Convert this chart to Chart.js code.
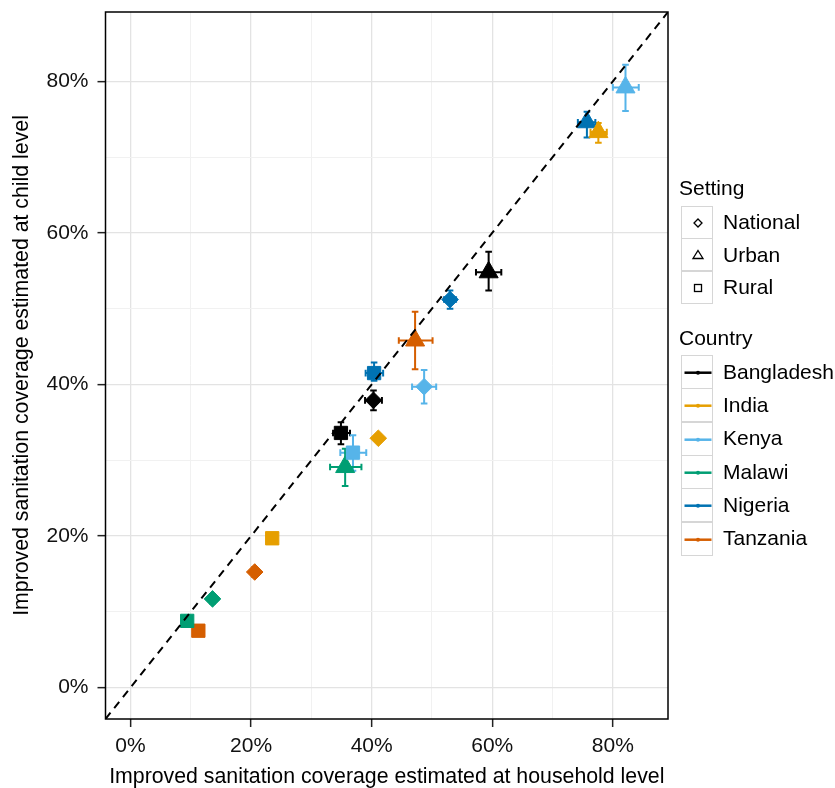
<!DOCTYPE html>
<html><head><meta charset="utf-8">
<script src="https://cdn.jsdelivr.net/npm/chart.js@4/dist/chart.umd.min.js"></script>
<style>
html,body{margin:0;padding:0;background:#fff;}
#wrap{position:relative;width:835px;height:788px;font-family:"Liberation Sans",Arial,sans-serif;}
canvas{position:absolute;left:0;top:0;}
.lg{position:absolute;font-size:21px;color:#000;line-height:24px;white-space:nowrap;}
.key{position:absolute;box-sizing:border-box;border:1px solid #d6d6d6;background:#fff;}
.key svg{position:absolute;left:0;top:0;}
</style></head>
<body><div id="wrap"><canvas id="c" width="835" height="788"></canvas><div id="legend"></div></div>
<script>
// ---- data ----
const countries = ['Bangladesh','India','Kenya','Malawi','Nigeria','Tanzania'];
const countryColors = ['#000000','#E69F00','#56B4E9','#009E73','#0072B2','#D55E00'];
const settings = ['National','Urban','Rural'];
const settingShapes = ['rectRot','triangle','rect'];
const axisTicks = [0,10,20,30,40,50,60,70,80];

// household-level coverage (x), per country
const hhNational = [40.3, 41.1, 48.7, 13.6, 53.0, 20.6];
const hhUrban    = [59.4, 77.6, 82.1, 35.6, 75.7, 47.2];
const hhRural    = [34.9, 23.5, 36.9,  9.4, 40.4, 11.25];
// child-level coverage (y), per country
const chNational = [37.9, 32.9, 39.7, 11.7, 51.2, 15.25];
const chUrban    = [54.8, 73.3, 79.2, 29.1, 74.6, 45.8];
const chRural    = [33.6, 19.7, 31.0,  8.8, 41.5,  7.5];
// confidence intervals
const hhLoNational = [38.9, 40.6, 46.7, 13.0, 52.0, 20.0];
const hhHiNational = [41.7, 41.6, 50.7, 14.2, 54.0, 21.2];
const chLoNational = [36.6, 32.4, 37.5, 11.1, 50.0, 14.6];
const chHiNational = [39.2, 33.4, 41.9, 12.3, 52.4, 15.9];
const hhLoUrban = [57.3, 76.3, 80.0, 33.1, 74.2, 44.5];
const hhHiUrban = [61.5, 79.0, 84.3, 38.3, 77.1, 50.1];
const chLoUrban = [52.4, 71.9, 76.1, 26.6, 72.6, 42.0];
const chHiUrban = [57.5, 74.5, 82.2, 31.5, 76.0, 49.6];
const hhLoRural = [33.6, 23.0, 34.8,  8.9, 39.0, 10.7];
const hhHiRural = [36.4, 24.0, 39.1,  9.9, 41.9, 11.8];
const chLoRural = [32.1, 19.2, 28.6,  8.3, 40.5,  7.0];
const chHiRural = [35.0, 20.2, 33.3,  9.5, 42.9,  8.0];

const axisMin = -4.15, axisMax = 89.15;

const HH = [hhNational, hhUrban, hhRural];
const CH = [chNational, chUrban, chRural];
const HHLO = [hhLoNational, hhLoUrban, hhLoRural];
const HHHI = [hhHiNational, hhHiUrban, hhHiRural];
const CHLO = [chLoNational, chLoUrban, chLoRural];
const CHHI = [chHiNational, chHiUrban, chHiRural];

const pointSizes = [8.3, 11, 9.4];

const datasets = [{
  data: [{x: axisMin, y: axisMin}, {x: axisMax, y: axisMax}],
  showLine: true, borderColor: '#000', borderWidth: 2, borderDash: [8, 6],
  pointRadius: 0, order: 0
}];
countries.forEach((c, ci) => {
  datasets.push({
    label: c,
    data: settings.map((s, si) => ({x: HH[si][ci], y: CH[si][ci]})),
    pointStyle: settingShapes,
    pointRadius: pointSizes,
    backgroundColor: countryColors[ci],
    borderColor: countryColors[ci],
    pointBorderWidth: 1,
    showLine: false,
    order: 1
  });
});

const errorBars = {
  id: 'errorBars',
  beforeDatasetsDraw(chart) {
    const {ctx, scales: {x, y}} = chart;
    ctx.save();
    ctx.lineWidth = 2;
    const cap = 3.3;
    countries.forEach((c, ci) => {
      ctx.strokeStyle = countryColors[ci];
      settings.forEach((s, si) => {
        const px = x.getPixelForValue(HH[si][ci]);
        const py = y.getPixelForValue(CH[si][ci]);
        const x0 = x.getPixelForValue(HHLO[si][ci]), x1 = x.getPixelForValue(HHHI[si][ci]);
        const y0 = y.getPixelForValue(CHLO[si][ci]), y1 = y.getPixelForValue(CHHI[si][ci]);
        ctx.beginPath();
        ctx.moveTo(x0, py); ctx.lineTo(x1, py);
        ctx.moveTo(x0, py - cap); ctx.lineTo(x0, py + cap);
        ctx.moveTo(x1, py - cap); ctx.lineTo(x1, py + cap);
        ctx.moveTo(px, y0); ctx.lineTo(px, y1);
        ctx.moveTo(px - cap, y0); ctx.lineTo(px + cap, y0);
        ctx.moveTo(px - cap, y1); ctx.lineTo(px + cap, y1);
        ctx.stroke();
      });
    });
    ctx.restore();
  }
};
const frame = {
  id: 'frame',
  afterDraw(chart) {
    const {ctx, chartArea: a} = chart;
    ctx.save();
    ctx.strokeStyle = '#000';
    ctx.lineWidth = 1.5;
    ctx.strokeRect(a.left, a.top, a.right - a.left, a.bottom - a.top);
    ctx.restore();
  }
};

const font = {family: '"Liberation Sans", Arial, sans-serif', size: 21};
const titleFont = {family: '"Liberation Sans", Arial, sans-serif', size: 21.3};
function axisOpts(title, isX) {
  return {
    type: 'linear', min: axisMin, max: axisMax,
    afterBuildTicks: sc => { sc.ticks = axisTicks.map(v => ({value: v})); },
    afterFit: sc => {
      if (isX) sc.height = 69; else sc.width = 105.5;
      sc.paddingTop = 0; sc.paddingBottom = 0; sc.paddingLeft = 0; sc.paddingRight = 0;
    },
    ticks: {
      font, color: '#111', padding: isX ? 7 : 9,
      callback: v => (v % 20 === 0 ? v + '%' : '')
    },
    grid: {
      color: c => (c.tick && c.tick.value % 20 === 0 ? '#e3e3e3' : '#f1f1f1'),
      lineWidth: c => (c.tick && c.tick.value % 20 === 0 ? 1.3 : 1),
      tickColor: c => (c.tick && c.tick.value % 20 === 0 ? '#222' : 'rgba(0,0,0,0)'),
      tickLength: 8, tickWidth: 1.5
    },
    border: {display: false},
    title: {display: true, text: title, font: titleFont, color: '#000',
      padding: isX ? {top: 0, bottom: -2} : {top: 9, bottom: 0}}
  };
}

new Chart(document.getElementById('c'), {
  type: 'scatter',
  data: {datasets},
  options: {
    responsive: false, animation: false, devicePixelRatio: 1,
    layout: {padding: {left: 0, right: 167, top: 11.7, bottom: 0}},
    plugins: {legend: {display: false}, tooltip: {enabled: false}},
    scales: {
      x: axisOpts('Improved sanitation coverage estimated at household level', true),
      y: axisOpts('Improved sanitation coverage estimated at child level', false)
    }
  },
  plugins: [errorBars, frame]
});

// ---- legend (HTML) ----
const lg = document.getElementById('legend');
function add(html) { lg.insertAdjacentHTML('beforeend', html); }
const keyLeft = 680.7, keyW = 32, labelLeft = 723;
add(`<div class="lg" style="left:679px;top:${188 - 12}px">Setting</div>`);
const shapeSvg = [
  '<polygon points="16,12 20,16 16,20 12,16" fill="none" stroke="#000" stroke-width="1.3"/>',
  '<polygon points="16,11.5 21,19.5 11,19.5" fill="none" stroke="#000" stroke-width="1.3"/>',
  '<rect x="12.5" y="12.5" width="7" height="7" fill="none" stroke="#000" stroke-width="1.3"/>'
];
settings.forEach((s, i) => {
  const top = 206 + i * 32.3;
  add(`<div class="key" style="left:${keyLeft}px;top:${top}px;width:${keyW}px;height:33px"><svg width="32" height="33">${shapeSvg[i]}</svg></div>`);
  add(`<div class="lg" style="left:${labelLeft}px;top:${top + 16.2 - 12}px">${s}</div>`);
});
add(`<div class="lg" style="left:679px;top:${338 - 12}px">Country</div>`);
countries.forEach((c, i) => {
  const top = 355 + i * 33.3;
  add(`<div class="key" style="left:${keyLeft}px;top:${top}px;width:${keyW}px;height:34px"><svg width="32" height="34"><line x1="2.5" y1="16.7" x2="29.5" y2="16.7" stroke="${countryColors[i]}" stroke-width="2.5"/><circle cx="16" cy="16.7" r="2" fill="${countryColors[i]}"/></svg></div>`);
  add(`<div class="lg" style="left:${labelLeft}px;top:${top + 16.7 - 12}px">${c}</div>`);
});
</script>
</body></html>
